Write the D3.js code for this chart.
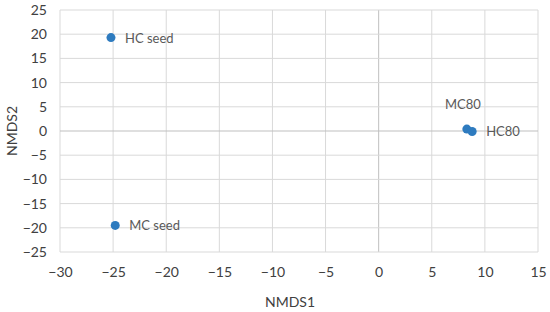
<!DOCTYPE html>
<html>
<head>
<meta charset="utf-8">
<script src="https://cdn.jsdelivr.net/npm/d3@7"></script>
<style>
  body { margin: 0; background: #fff; }
  svg { font-family: Lato, "Open Sans", sans-serif; }
</style>
</head>
<body>
<div id="chart"></div>
<script>
const labels = ["HC seed", "MC seed", "MC80", "HC80"];
const nmds1 = [-25.2, -24.8, 8.3, 8.8];
const nmds2 = [19.3, -19.5, 0.4, -0.1];
const xTicks = [-30, -25, -20, -15, -10, -5, 0, 5, 10, 15];
const yTicks = [-25, -20, -15, -10, -5, 0, 5, 10, 15, 20, 25];

const width = 550, height = 312;
const margin = { top: 10, right: 12, bottom: 60, left: 60 };

const svg = d3.select("#chart").append("svg")
  .attr("width", width)
  .attr("height", height);

const x = d3.scaleLinear().domain([-30, 15]).range([margin.left, width - margin.right]);
const y = d3.scaleLinear().domain([-25, 25]).range([height - margin.bottom, margin.top]);

// grid
svg.append("g")
  .selectAll("line")
  .data(xTicks)
  .join("line")
  .attr("x1", d => x(d)).attr("x2", d => x(d))
  .attr("y1", y(-25)).attr("y2", y(25))
  .attr("stroke", d => d === 0 ? "#bfbfbf" : "#d9d9d9")
  .attr("stroke-width", 1);

svg.append("g")
  .selectAll("line")
  .data(yTicks)
  .join("line")
  .attr("y1", d => y(d)).attr("y2", d => y(d))
  .attr("x1", x(-30)).attr("x2", x(15))
  .attr("stroke", d => d === 0 ? "#bfbfbf" : "#d9d9d9")
  .attr("stroke-width", 1);

// axes (labels only)
const fmt = d3.format("d");
const xAxis = svg.append("g")
  .attr("transform", `translate(0,${y(-25)})`)
  .call(d3.axisBottom(x).tickValues(xTicks).tickFormat(fmt).tickSize(0).tickPadding(15));
const yAxis = svg.append("g")
  .attr("transform", `translate(${x(-30)},0)`)
  .call(d3.axisLeft(y).tickValues(yTicks).tickFormat(fmt).tickSize(0).tickPadding(13));

[xAxis, yAxis].forEach(g => {
  g.select(".domain").remove();
  g.selectAll("text")
    .attr("fill", "#404040")
    .style("font-size", "14px")
    .style("font-family", "Lato, 'Open Sans', sans-serif");
});

// axis titles
svg.append("text")
  .attr("x", 290)
  .attr("y", 307)
  .attr("text-anchor", "middle")
  .attr("fill", "#404040")
  .style("font-size", "14px")
  .text("NMDS1");

svg.append("text")
  .attr("transform", `translate(17,${(y(-25) + y(25)) / 2}) rotate(-90)`)
  .attr("text-anchor", "middle")
  .attr("fill", "#404040")
  .style("font-size", "14px")
  .text("NMDS2");

// points
const points = labels.map((l, i) => ({ label: l, x: nmds1[i], y: nmds2[i] }));

svg.append("g")
  .selectAll("circle")
  .data(points)
  .join("circle")
  .attr("cx", d => x(d.x))
  .attr("cy", d => y(d.y))
  .attr("r", 4.5)
  .attr("fill", "#2e7bbf");

// data labels: MC80 sits above, others to the right
svg.append("g")
  .selectAll("text")
  .data(points)
  .join("text")
  .attr("x", d => d.label === "MC80" ? x(d.x) - 4 : x(d.x) + 14)
  .attr("y", d => d.label === "MC80" ? y(d.y) - 20 : y(d.y) + 5)
  .attr("text-anchor", d => d.label === "MC80" ? "middle" : "start")
  .attr("fill", "#595959")
  .style("font-size", "13px")
  .text(d => d.label);
</script>
</body>
</html>
